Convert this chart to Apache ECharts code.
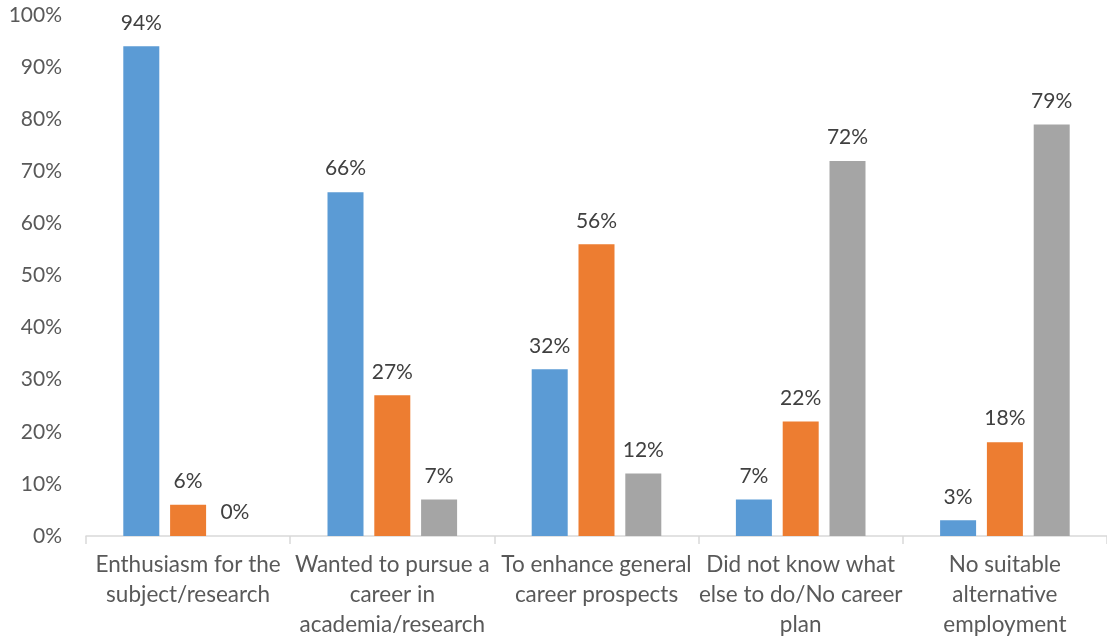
<!DOCTYPE html>
<html><head><meta charset="utf-8">
<script src="https://cdn.jsdelivr.net/npm/echarts@6/dist/echarts.min.js"></script>
<style>html,body{margin:0;padding:0;background:#fff}#c{width:1107px;height:640px}</style>
</head><body><div id="c"></div>
<script>
const categories = [
  "Enthusiasm for the\nsubject/research",
  "Wanted to pursue a\ncareer in\nacademia/research",
  "To enhance general\ncareer prospects",
  "Did not know what\nelse to do/No career\nplan",
  "No suitable\nalternative\nemployment"
];
const seriesA = [94, 66, 32, 7, 3];
const seriesB = [6, 27, 56, 22, 18];
const seriesC = [0, 7, 12, 72, 79];
const colors = ["#5B9BD5", "#ED7D31", "#A5A5A5"];
const font = "Lato, 'Open Sans', sans-serif";

const chart = echarts.init(document.getElementById('c'));
const mk = (name, data, color) => ({
  name, type: 'bar', data, barWidth: 36, barGap: '30%',
  itemStyle: { color },
  label: { show: true, position: 'top', distance: 13, formatter: '{c}%', color: '#404040', fontSize: 21, fontFamily: font }
});
chart.setOption({
  animation: false,
  grid: { left: 86, width: 1026, top: 15, bottom: 104, containLabel: false },
  xAxis: {
    type: 'category', data: categories,
    axisLine: { lineStyle: { color: '#D9D9D9', width: 1.5 } },
    axisTick: { show: true, length: 8, lineStyle: { color: '#D9D9D9', width: 1.5 } },
    axisLabel: { interval: 0, margin: 14, color: '#595959', fontSize: 22.5, lineHeight: 30, fontFamily: font }
  },
  yAxis: {
    type: 'value', min: 0, max: 100, interval: 10,
    axisLine: { show: false }, axisTick: { show: false }, splitLine: { show: false },
    axisLabel: { formatter: '{value}%', color: '#595959', fontSize: 21, margin: 24, fontFamily: font }
  },
  series: [mk('A', seriesA, colors[0]), mk('B', seriesB, colors[1]), mk('C', seriesC, colors[2])]
});
</script></body></html>
